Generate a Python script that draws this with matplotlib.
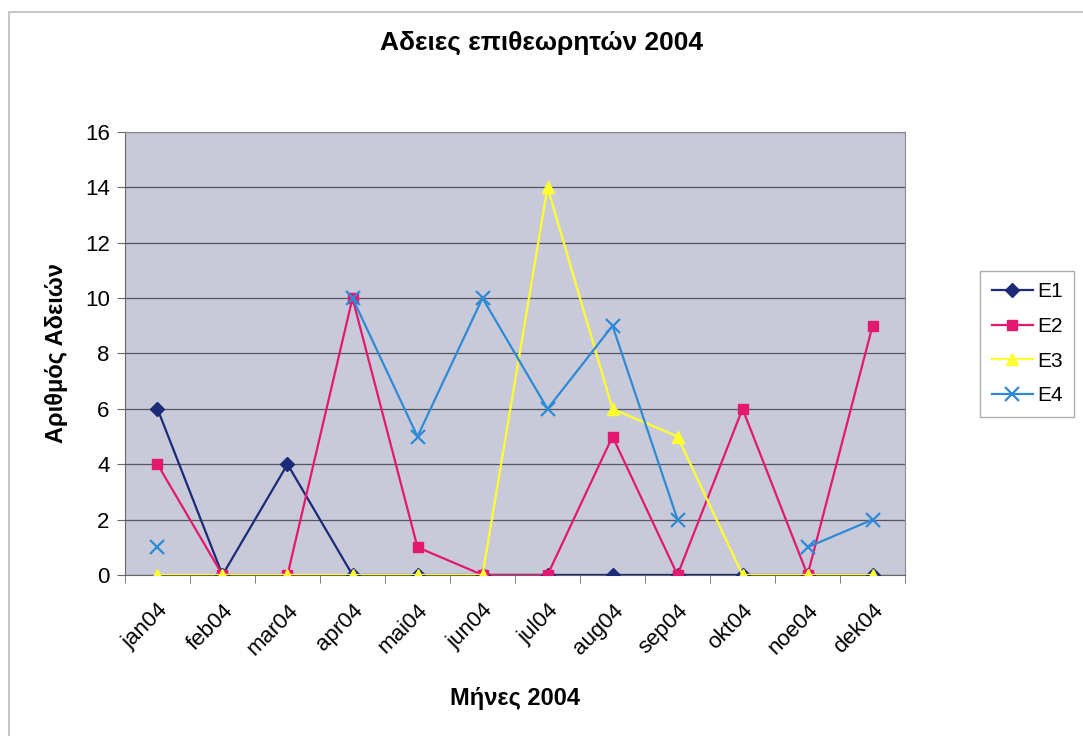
import matplotlib
matplotlib.use("Agg")
import matplotlib.pyplot as plt
import numpy as np
from matplotlib.patches import Rectangle

months = ["jan04", "feb04", "mar04", "apr04", "mai04", "jun04",
          "jul04", "aug04", "sep04", "okt04", "noe04", "dek04"]
E1 = [6, 0, 4, 0, 0, 0, 0, 0, 0, 0, 0, 0]
E2 = [4, 0, 0, 10, 1, 0, 0, 5, 0, 6, 0, 9]
E3 = [0, 0, 0, 0, 0, 0, 14, 6, 5, 0, 0, 0]
E4 = [1, np.nan, np.nan, 10, 5, 10, 6, 9, 2, np.nan, 1, 2]

plt.rcParams['font.family'] = ['Liberation Sans', 'DejaVu Sans']

fig = plt.figure(figsize=(10.83, 7.36), dpi=100)
fig.patch.set_facecolor('white')
ax = fig.add_axes([0.1154, 0.2188, 0.7203, 0.6019])
ax.set_facecolor('#C9CAD9')

x = np.arange(len(months))
ax.plot(x, E1, color='#1C2A78', lw=1.6, marker='D', ms=7, label='E1', zorder=3)
ax.plot(x, E2, color='#E2196F', lw=1.6, marker='s', ms=7, label='E2', zorder=3)
ax.plot(x, E3, color='#FFFF30', lw=1.6, marker='^', ms=8, label='E3', zorder=3)
ax.plot(x, E4, color='#2F8AD6', lw=1.6, marker='x', ms=10, mew=1.6, label='E4', zorder=3)

ax.set_xlim(-0.5, 11.5)
ax.set_ylim(0, 16)
ax.set_yticks(range(0, 17, 2))
ax.yaxis.grid(True, color='#555560', lw=0.9)
ax.set_axisbelow(True)
ax.set_xticks(x)
ax.set_xticklabels(months, rotation=45, ha='right', va='top', rotation_mode='anchor', fontsize=16)
ax.set_xticks(np.arange(-0.5, 12, 1), minor=True)
ax.tick_params(axis='x', which='major', length=0, pad=18)
ax.tick_params(axis='x', which='minor', length=6, direction='out', color='#666666')
ax.tick_params(axis='y', labelsize=16, length=6, color='#666666', pad=5)
for s in ['top', 'right']:
    ax.spines[s].set_color('#888888')
for s in ['left', 'bottom']:
    ax.spines[s].set_color('#666666')

ax.set_ylabel('Αριθμός Αδειών', fontsize=17, fontweight='bold', labelpad=12)
ax.set_xlabel('Μήνες 2004', fontsize=17, fontweight='bold', labelpad=20)
fig.text(0.5, 0.942, 'Αδειες επιθεωρητών 2004', ha='center', va='center',
         fontsize=19, fontweight='bold')

leg = fig.legend(loc='upper left', bbox_to_anchor=(0.905, 0.632), fontsize=15,
                 frameon=True, fancybox=False, edgecolor='#999999',
                 handlelength=2.0, labelspacing=0.75, borderpad=0.55,
                 handletextpad=0.2, borderaxespad=0.0)

fig.patches.append(Rectangle((0.008, -0.05), 1.1, 1.034, transform=fig.transFigure,
                             fill=False, edgecolor='#BBBBBB', lw=1.2))

fig.savefig('out.png', dpi=100)
